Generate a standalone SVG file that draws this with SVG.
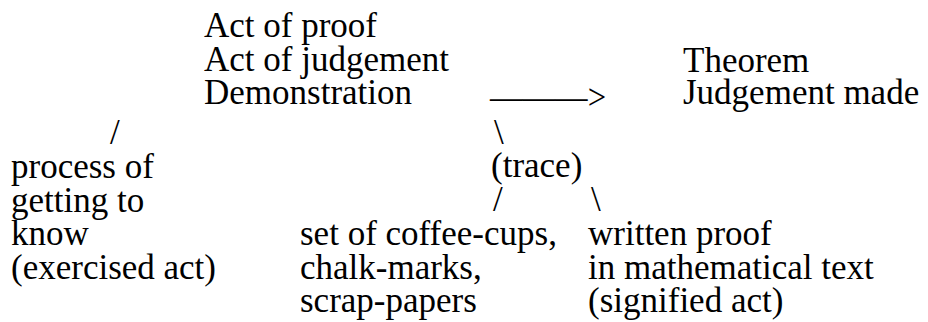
<svg xmlns="http://www.w3.org/2000/svg" width="928" height="322" viewBox="0 0 928 322">
  <style>
    text { font-family: "Liberation Serif", "Times New Roman", serif; font-size: 35px; fill: #000; }
  </style>
  <rect width="928" height="322" fill="#fff"/>

  <!-- the act of proof, at the head of the tree -->
  <g id="node-act">
    <text x="204" y="37">Act of proof</text>
    <text x="204" y="70.5">Act of judgement</text>
    <text x="204" y="104">Demonstration</text>
  </g>

  <!-- what the act yields -->
  <g id="node-theorem">
    <text x="683" y="71.5">Theorem</text>
    <text x="683" y="104">Judgement made</text>
  </g>

  <!-- left branch: the exercised act -->
  <g id="node-process">
    <text x="11" y="178">process of</text>
    <text x="11" y="211.5">getting to</text>
    <text x="11" y="245">know</text>
    <text x="11" y="278.5">(exercised act)</text>
  </g>

  <!-- right branch: what remains of the act -->
  <g id="node-trace">
    <text x="491" y="177">(trace)</text>
  </g>

  <g id="node-material">
    <text x="300" y="245">set of coffee-cups,</text>
    <text x="300" y="278.5">chalk-marks,</text>
    <text x="300" y="312">scrap-papers</text>
  </g>

  <g id="node-written">
    <text x="588" y="245">written proof</text>
    <text x="588" y="278.5">in mathematical text</text>
    <text x="588" y="312">(signified act)</text>
  </g>

  <!-- typed branch marks and the arrow -->
  <g id="connectors">
    <text x="490" y="108.5" textLength="116" lengthAdjust="spacingAndGlyphs">———&gt;</text>
    <text x="110" y="144">/</text>
    <text x="494" y="144">\</text>
    <text x="493" y="211">/</text>
    <text x="591" y="211">\</text>
  </g>
</svg>
